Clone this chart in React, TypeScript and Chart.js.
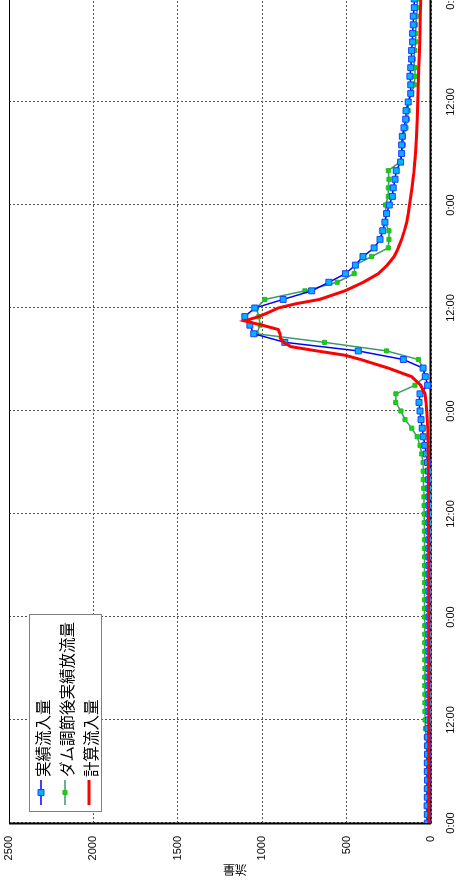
import React, { useEffect, useRef } from 'react';
import { Chart, registerables } from 'chart.js';

Chart.register(...registerables);

// time in hours from the first 0:00
const HOURS = [
  0, 1, 2, 3, 4, 5, 6, 7, 8, 9, 10, 11, 12, 13, 14, 15, 16, 17, 18, 19,
  20, 21, 22, 23, 24, 25, 26, 27, 28, 29, 30, 31, 32, 33, 34, 35, 36, 37, 38, 39,
  40, 41, 42, 43, 44, 45, 46, 47, 48, 49, 50, 51, 52, 53, 54, 55, 56, 57, 58, 59,
  60, 61, 62, 63, 64, 65, 66, 67, 68, 69, 70, 71, 72, 73, 74, 75, 76, 77, 78, 79,
  80, 81, 82, 83, 84, 85, 86, 87, 88, 89, 90, 91, 92, 93, 94, 95, 96,
];

// 実績流入量
const INFLOW = [
  22, 22, 23, 22, 22, 21, 22, 22, 21, 20, 20, 18, 15,
  12, 12, 12, 12, 12, 12, 12, 12, 12, 12, 12, 12, 12, 12,
  12, 12, 12, 12, 12, 12, 12, 12, 12, 12, 12, 12, 13, 14,
  15, 20, 28, 36, 46, 52, 59, 65, 71, 65, 20, 34, 47, 164, 431, 866, 1050, 1073, 1103,
  1044, 876, 707, 605, 507, 448, 403, 337, 302, 286, 273, 263, 247, 229, 224, 213, 206, 180, 174, 174,
  170, 160, 150, 148, 135, 120, 120, 125, 120, 115, 115, 109, 109, 105, 105, 99, 99,
];

// ダム調節後実績放流量
const OUTFLOW = [
  25, 25, 26, 25, 25, 26, 25, 25, 26, 27, 28,
  33, 35, 36, 36, 36, 37, 37, 36, 37, 37, 37, 37, 37, 38, 38,
  38, 38, 38, 38, 38, 38, 39, 39, 39, 40, 40, 41, 42, 43,
  46, 46, 47, 55, 65, 82, 114, 154, 178, 209, 208, 95, 36, 46, 75, 263, 631, 1034, 1012, 1020,
  1034, 984, 747, 556, 455, 451, 352, 253, 249, 249, 273, 267, 269, 253, 253, 249, 253, 185, 174, 164,
  164, 148, 140, 135, 135, 115, 99, 95, 95, 105, 95, 91, 91, 91, 85, 81, 81,
];

// 計算流入量
const CALC_HOURS = [
  0, 6, 12, 18, 24, 30, 36, 40, 42, 44, 45, 46, 47, 48, 49, 50, 51, 52, 53, 54,
  54.5, 55, 55.5, 56, 56.5, 57, 57.5, 58, 58.5, 59, 59.5, 60, 60.5, 61,
  62, 63, 64, 65, 66, 67, 68, 69, 70, 71, 72, 73, 74, 75, 76, 77, 78, 79, 80,
  82, 84, 86, 88, 90, 92, 94, 96,
];
const CALC_INFLOW = [
  13, 13, 14, 14, 14, 14, 15, 15, 16, 17, 18, 20, 22, 25, 29, 36, 61, 115, 253, 417,
  510, 676, 830, 872, 893, 895, 905, 1000, 1105, 1020, 960, 905, 800, 660,
  510, 401, 312, 259, 218, 194, 174, 158, 144, 135, 128, 120, 113, 106, 100, 96, 92, 89, 86,
  82, 78, 75, 72, 68, 65, 63, 61,
];

const SERIES_NAMES = ['実績流入量', 'ダム調節後実績放流量', '計算流入量'];
const TIME_TICK_LABELS = ['0:00', '12:00'];
const VALUE_AXIS_TITLE = '流量';

const W = 900;
const H = 471;

export default function App() {
  const ref = useRef<HTMLCanvasElement | null>(null);

  useEffect(() => {
    const canvas = ref.current;
    if (!canvas) return;

    const frameAndTitle = {
      id: 'frameAndTitle',
      beforeDatasetsDraw(chart: any) {
        const { ctx, chartArea } = chart;
        const { left, right, top, bottom } = chartArea;
        ctx.save();
        ctx.strokeStyle = '#000';
        ctx.lineWidth = 1;
        ctx.beginPath();
        ctx.moveTo(left, top + 0.5);
        ctx.lineTo(right, top + 0.5);
        ctx.moveTo(right - 0.5, top);
        ctx.lineTo(right - 0.5, bottom);
        ctx.stroke();
        ctx.lineWidth = 2;
        ctx.beginPath();
        ctx.moveTo(left - 1, bottom - 0.5);
        ctx.lineTo(right, bottom - 0.5);
        ctx.moveTo(left - 0.5, top);
        ctx.lineTo(left - 0.5, bottom);
        ctx.stroke();
        ctx.restore();
      },
      afterDraw(chart: any) {
        const { ctx, chartArea } = chart;
        const { left, top } = chartArea;
        ctx.save();
        // axis title
        ctx.translate(12, 235);
        ctx.rotate(-Math.PI / 2);
        ctx.fillStyle = '#000';
        ctx.font = '12px "Noto Sans CJK JP"';
        ctx.textAlign = 'center';
        ctx.textBaseline = 'middle';
        ctx.fillText(VALUE_AXIS_TITLE, 0, 0);
        ctx.restore();

        // legend
        const bx = left + 11;
        const by = top + 20;
        const bw = 197;
        const bh = 72;
        ctx.save();
        ctx.fillStyle = '#fff';
        ctx.fillRect(bx, by, bw, bh);
        ctx.strokeStyle = '#7f7f7f';
        ctx.lineWidth = 1;
        ctx.strokeRect(bx + 0.5, by + 0.5, bw, bh);
        const ds = chart.data.datasets;
        const order = [1, 2, 0];
        order.forEach((di: number, i: number) => {
          const d = ds[di];
          const y = by + 12 + i * 24;
          ctx.strokeStyle = d.borderColor;
          ctx.lineWidth = d.borderWidth;
          ctx.beginPath();
          ctx.moveTo(bx + 7, y);
          ctx.lineTo(bx + 32, y);
          ctx.stroke();
          if (d.pointRadius > 0) {
            const s = d.pointRadius * Math.SQRT1_2;
            ctx.fillStyle = d.pointBackgroundColor;
            ctx.strokeStyle = d.pointBorderColor;
            ctx.lineWidth = d.pointBorderWidth;
            ctx.beginPath();
            ctx.rect(bx + 19.5 - s, y - s, 2 * s, 2 * s);
            ctx.fill();
            ctx.stroke();
          }
          ctx.fillStyle = '#000';
          ctx.font = '15.5px "Noto Sans CJK JP"';
          ctx.textAlign = 'left';
          ctx.textBaseline = 'middle';
          ctx.fillText(d.label, bx + 35, y + 2.5);
        });
        ctx.restore();
      },
    };

    const toXY = (xs: number[], ys: number[]) => xs.map((x, i) => ({ x, y: ys[i] }));

    const chart = new Chart(canvas, {
      type: 'line',
      data: {
        datasets: [
          {
            label: SERIES_NAMES[2],
            data: toXY(CALC_HOURS, CALC_INFLOW),
            borderColor: '#ff0000',
            backgroundColor: '#ff0000',
            borderWidth: 3,
            pointRadius: 0,
            pointHoverRadius: 0,
            tension: 0,
          },
          {
            label: SERIES_NAMES[0],
            data: toXY(HOURS, INFLOW),
            borderColor: '#0000ff',
            backgroundColor: '#00b4ff',
            borderWidth: 1.5,
            pointStyle: 'rect',
            pointRadius: 4.2,
            pointBackgroundColor: '#00b4ff',
            pointBorderColor: '#1a3cff',
            pointBorderWidth: 1,
            tension: 0,
          },
          {
            label: SERIES_NAMES[1],
            data: toXY(HOURS, OUTFLOW),
            borderColor: '#3a9a68',
            backgroundColor: '#00e000',
            borderWidth: 1.5,
            pointStyle: 'rect',
            pointRadius: 2.9,
            pointBackgroundColor: '#00e000',
            pointBorderColor: '#2cb52c',
            pointBorderWidth: 1,
            tension: 0,
          },
        ],
      },
      options: {
        animation: false,
        responsive: false,
        maintainAspectRatio: false,
        devicePixelRatio: 1,
        events: [],
        layout: { padding: { top: 9, right: 17, left: 0, bottom: 0 } },
        plugins: {
          legend: { display: false },
          tooltip: { enabled: false },
          title: { display: false },
        },
        scales: {
          x: {
            type: 'linear',
            min: 0,
            max: 96,
            afterFit: (scale: any) => {
              scale.height = 40;
              scale.paddingLeft = 0;
              scale.paddingRight = 0;
            },
            ticks: {
              stepSize: 12,
              autoSkip: false,
              maxRotation: 0,
              minRotation: 0,
              padding: 13,
              color: '#000',
              font: { family: '"Liberation Sans", Arial, sans-serif', size: 11 },
              callback: (v: any) => (Number(v) % 24 === 0 ? TIME_TICK_LABELS[0] : TIME_TICK_LABELS[1]),
            },
            grid: { color: '#555', lineWidth: 1, drawTicks: false },
            border: { display: false, dash: [2, 2] },
          },
          y: {
            type: 'linear',
            min: 0,
            max: 2500,
            afterFit: (scale: any) => {
              scale.width = 59;
              scale.paddingTop = 0;
              scale.paddingBottom = 0;
            },
            ticks: {
              stepSize: 500,
              padding: 13,
              color: '#000',
              font: { family: '"Liberation Sans", Arial, sans-serif', size: 11 },
              callback: (v: any) => String(v),
            },
            grid: { color: '#555', lineWidth: 1, drawTicks: false },
            border: { display: false, dash: [2, 2] },
          },
        },
      },
      plugins: [frameAndTitle],
    } as any);

    return () => chart.destroy();
  }, []);

  return (
    <div
      style={{
        position: 'absolute',
        left: 0,
        top: 0,
        width: W,
        height: H,
        transformOrigin: '0 0',
        transform: 'translate(0px, 882px) rotate(-90deg)',
        background: '#fff',
      }}
    >
      <canvas ref={ref} width={W} height={H} style={{ display: 'block', width: W, height: H }} />
    </div>
  );
}
